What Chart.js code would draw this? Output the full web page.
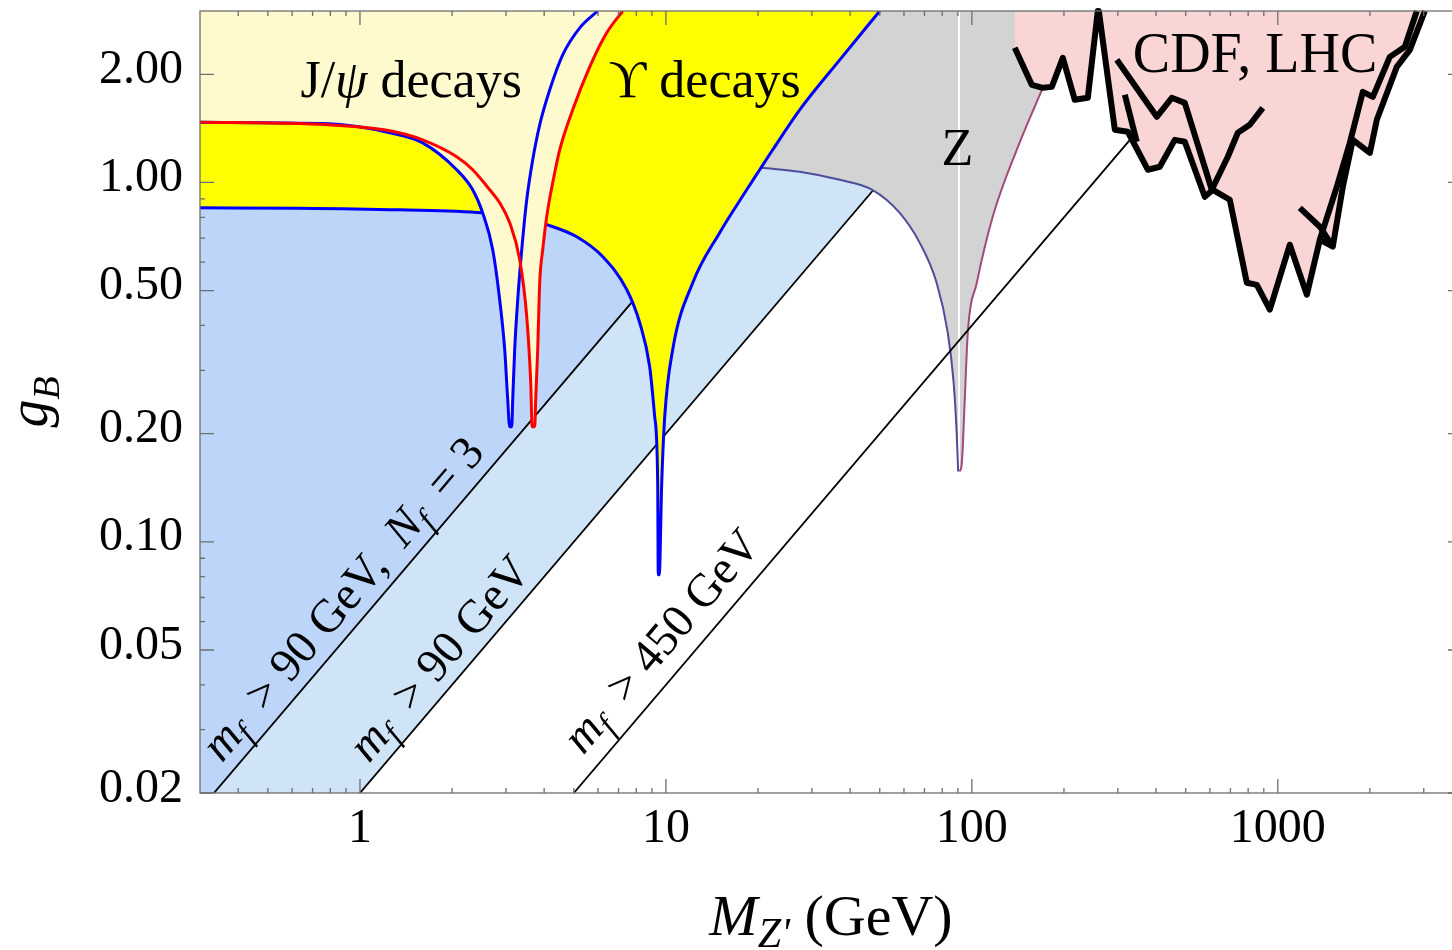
<!DOCTYPE html>
<html>
<head>
<meta charset="utf-8">
<title>g_B vs M_Z'</title>
<script src="https://cdn.jsdelivr.net/npm/chart.js@4.4.1/dist/chart.umd.min.js"></script>
<style>
  html, body { margin: 0; padding: 0; background: #fff; overflow: hidden; }
  #wrap { width: 1480px; height: 950px; }
</style>
</head>
<body>
<div id="wrap"><canvas id="bounds" width="1480" height="950"></canvas></div>
<script>
// [M_Z' (GeV), g_B] pairs

// J/psi bound (blue) and psi' bound (red)
var jpsiCurve = [[0.3,1.47],[0.796,1.456],[1.252,1.375],[1.603,1.289],[2.071,1.085],[2.336,0.954],[2.518,0.823],[2.716,0.65],[2.862,0.472],[2.972,0.343],[3.04,0.249],[3.086,0.209],[3.133,0.209],[3.157,0.249],[3.204,0.343],[3.278,0.472],[3.379,0.65],[3.508,0.895],[3.67,1.157],[3.868,1.447],[4.172,1.811],[4.599,2.265],[5.229,2.693],[5.985,3.0]];
var psiPrimeCurve = [[0.3,1.47],[0.589,1.461],[0.976,1.429],[1.252,1.392],[1.603,1.314],[2.071,1.179],[2.336,1.085],[2.655,0.954],[2.862,0.878],[3.086,0.772],[3.327,0.61],[3.508,0.423],[3.615,0.277],[3.655,0.209],[3.725,0.209],[3.753,0.249],[3.81,0.343],[3.868,0.526],[3.957,0.65],[4.077,0.803],[4.266,0.998],[4.496,1.233],[4.959,1.593],[5.636,2.097],[6.405,2.608],[7.224,3.0]];

// Upsilon bound
var upsilonCurve = [[0.3,0.85],[0.635,0.848],[1.35,0.839],[2.52,0.823],[3.33,0.798],[4.08,0.763],[5.11,0.706],[6.22,0.621],[7.45,0.503],[8.21,0.407],[8.85,0.307],[9.19,0.223],[9.4,0.146],[9.44,0.081],[9.51,0.081],[9.69,0.146],[9.91,0.223],[10.52,0.342],[12.24,0.526],[14.99,0.725],[18.37,0.954],[20.26,1.085],[22.34,1.233],[27.37,1.593],[37.0,2.194],[50.0,3.0]];

// Z width bound, both sides of the pole
var zLeft = [[20.56,1.099],[27.37,1.071],[37.0,1.017],[47.28,0.954],[58.1,0.823],[67.5,0.68],[76.7,0.526],[83.4,0.382],[87.2,0.277],[89.2,0.201],[90.2,0.157]];
var zRight = [[91.3,0.157],[92.7,0.165],[94.8,0.249],[97.0,0.382],[103.8,0.526],[117.0,0.803],[140.2,1.233],[170.5,1.834]];

// anomaly-fermion mass lines (the 90 GeV one continues below the axis)
var fermionNf3 = [[0.3,0.018],[7.73,0.464]];
var fermion90 = [[0.3,0.006],[47.5,0.95]];
var fermion450 = [[5.0,0.02],[342,1.368]];

// CDF / LHC dijet limits
var cdfEdge = [[138.1,2.369],[157,1.869],[170.5,1.834],[182.5,1.845],[198.3,2.222],[217,1.698],[239.3,1.72],[258,3.0],[260,3.0],[293.3,1.402],[323.4,1.384],[375.9,1.085],[411.4,1.106],[460.6,1.314],[496.6,1.298],[577.2,0.912],[613.1,0.954],[696.8,0.895],[791.9,0.526],[853.9,0.519],[941.7,0.443],[1094.7,0.671],[1244.1,0.487],[1372.1,0.693],[1512.9,0.663],[1631.6,0.973],[1759.3,1.314],[1999.2,1.209],[2107,1.494],[2449,2.097],[2701,2.339],[3024,3.0]];
var cdfInner = [[1372.1,0.693],[1559.2,0.973],[1719.5,1.289],[1896.6,1.787],[2044.5,1.731],[2323,2.236],[2602,2.385],[2847,3.0]];
var cdfHook = [[1180.2,0.85],[1372.1,0.753],[1512.9,0.663]];
var cdfUpper = [[297.7,2.194],[402.2,1.523],[450.3,1.72],[496.6,1.665],[608.5,0.954]];
var cdfShort = [[316.2,1.754],[345.9,1.298]];
var cdfSlant = [[893.3,1.613],[810,1.447],[740.1,1.375],[686.4,1.179],[608.5,0.954]];

var xTicks = [1, 10, 100, 1000];
var xMinorTicks = [0.4,0.5,0.6,0.7,0.8,0.9,2,3,4,5,6,7,8,9,20,30,40,50,60,70,80,90,200,300,400,500,600,700,800,900,2000,3000];
var yTicks = [0.02, 0.05, 0.1, 0.2, 0.5, 1, 2];
var yMinorTicks = [0.03,0.04,0.06,0.07,0.08,0.09,0.3,0.4,0.6,0.7,0.8,0.9];

var serif = '"Liberation Serif", "DejaVu Serif", serif';

function curve(label, data, o) {
  return Object.assign({
    label: label, data: data.slice(), pointRadius: 0, pointHoverRadius: 0,
    borderWidth: 0, borderColor: 'rgba(0,0,0,0)', fill: false, clip: 0, tension: 0
  }, o);
}

var smooth = { cubicInterpolationMode: 'monotone' };
var cdfLine = { borderColor: '#000', borderWidth: 6, borderJoinStyle: 'round', clip: 3 };

var datasets = [
  curve('m_f > 90 GeV', fermion90, { fill: 'end', backgroundColor: '#d0e4f8', borderColor: '#000', borderWidth: 1.8, order: 20 }),
  curve('m_f > 90 GeV, N_f = 3', fermionNf3, { fill: 'end', backgroundColor: '#bcd5f8', borderColor: '#000', borderWidth: 1.8, order: 19 }),
  curve('Z (below pole)', zLeft, Object.assign({ fill: 'end', backgroundColor: '#d3d3d3', borderColor: '#4d4d9c', borderWidth: 2, order: 18 }, smooth)),
  curve('Z (above pole)', zRight, Object.assign({ fill: 'end', backgroundColor: '#d3d3d3', borderColor: '#a24a7c', borderWidth: 2, order: 17 }, smooth)),
  curve('Upsilon', upsilonCurve, Object.assign({ fill: 'end', backgroundColor: '#ffff00', borderColor: '#0000ff', borderWidth: 3, order: 16 }, smooth)),
  curve('J/psi area', jpsiCurve, Object.assign({ fill: 'end', backgroundColor: '#fffacd', order: 15 }, smooth)),
  curve('psi\' area', psiPrimeCurve, Object.assign({ fill: 'end', backgroundColor: '#fffacd', order: 14 }, smooth)),
  curve('J/psi', jpsiCurve, Object.assign({ borderColor: '#0000ff', borderWidth: 3, order: 13 }, smooth)),
  curve('psi\'', psiPrimeCurve, Object.assign({ borderColor: '#ff0000', borderWidth: 3, order: 12 }, smooth)),
  curve('m_f > 450 GeV', fermion450, { borderColor: '#000', borderWidth: 1.8, order: 11 }),
  curve('CDF, LHC', cdfEdge, Object.assign({ fill: 'end', backgroundColor: '#f9d5d5', order: 10 }, cdfLine)),
  curve('CDF 2', cdfInner, Object.assign({ order: 9 }, cdfLine)),
  curve('CDF 3', cdfHook, Object.assign({ order: 8 }, cdfLine)),
  curve('CDF 4', cdfUpper, Object.assign({ order: 7 }, cdfLine)),
  curve('CDF 5', cdfShort, Object.assign({ order: 6 }, cdfLine)),
  curve('CDF 6', cdfSlant, Object.assign({ order: 5 }, cdfLine))
];

// text pieces: [text, size, italic, dy]
var plotLabels = [
  { at: [1.47, 1.73], parts: [['J/', 52], ['ψ', 52, true], [' decays', 52]] },
  { at: [13.4, 1.73], parts: [['ϒ decays', 52]] },
  { at: [89.6, 1.12], parts: [['Z', 52]] },
  { at: [842.6, 2.03], parts: [['CDF, LHC', 56]] }
];
var lineLabels = [
  { line: fermionNf3, at: 1.03, lift: 13, parts: [['m', 47, true], ['f', 33, true, 9], ['  > 90 GeV,  ', 47], ['N', 47, true], ['f', 33, true, 9], ['  = 3', 47]] },
  { line: fermion90, at: 2.12, lift: 12, parts: [['m', 47, true], ['f', 33, true, 9], ['  > 90 GeV', 47]] },
  { line: fermion450, at: 11.6, lift: 17, parts: [['m', 47, true], ['f', 33, true, 9], ['  > 450 GeV', 47]] }
];

function fontOf(p) { return (p[2] ? 'italic ' : '') + p[1] + 'px ' + serif; }

function drawRich(ctx, parts, x, y) {
  var w = 0;
  parts.forEach(function (p) { ctx.font = fontOf(p); w += ctx.measureText(p[0]).width; });
  var cx = x - w / 2;
  parts.forEach(function (p) {
    ctx.font = fontOf(p);
    ctx.fillText(p[0], cx, y + (p[3] || 0));
    cx += ctx.measureText(p[0]).width;
  });
}

var framePlugin = {
  id: 'frame',
  afterDatasetsDraw: function (chart) {
    var ctx = chart.ctx, a = chart.chartArea, xs = chart.scales.x, ys = chart.scales.y;
    ctx.save();
    ctx.strokeStyle = '#6e6e6e';
    ctx.lineWidth = 1.3;
    ctx.strokeRect(a.left, a.top, a.right - a.left, a.bottom - a.top);
    ctx.beginPath();
    function xt(v, len) {
      var p = xs.getPixelForValue(v);
      ctx.moveTo(p, a.bottom); ctx.lineTo(p, a.bottom - len);
      ctx.moveTo(p, a.top); ctx.lineTo(p, a.top + len);
    }
    function yt(v, len) {
      var p = ys.getPixelForValue(v);
      ctx.moveTo(a.left, p); ctx.lineTo(a.left + len, p);
      ctx.moveTo(a.right, p); ctx.lineTo(a.right - len, p);
    }
    xTicks.forEach(function (v) { xt(v, 14); });
    xMinorTicks.forEach(function (v) { xt(v, 5); });
    yTicks.forEach(function (v) { yt(v, 14); });
    yMinorTicks.forEach(function (v) { yt(v, 5); });
    ctx.stroke();
    ctx.restore();
  }
};

var textPlugin = {
  id: 'texts',
  afterDatasetsDraw: function (chart) {
    var ctx = chart.ctx, a = chart.chartArea, xs = chart.scales.x, ys = chart.scales.y;
    ctx.save();
    ctx.fillStyle = '#000';
    ctx.textBaseline = 'alphabetic';
    plotLabels.forEach(function (l) {
      drawRich(ctx, l.parts, xs.getPixelForValue(l.at[0]), ys.getPixelForValue(l.at[1]));
    });
    lineLabels.forEach(function (l) {
      var x0 = xs.getPixelForValue(l.line[0][0]), y0 = ys.getPixelForValue(l.line[0][1]);
      var x1 = xs.getPixelForValue(l.line[1][0]), y1 = ys.getPixelForValue(l.line[1][1]);
      var px = xs.getPixelForValue(l.at);
      var py = y0 + (px - x0) / (x1 - x0) * (y1 - y0);
      ctx.save();
      ctx.translate(px, py);
      ctx.rotate(Math.atan2(y1 - y0, x1 - x0));
      drawRich(ctx, l.parts, 0, -l.lift);
      ctx.restore();
    });
    // axis titles
    ctx.save();
    ctx.translate(47, (a.top + a.bottom) / 2);
    ctx.rotate(-Math.PI / 2);
    drawRich(ctx, [['g', 56, true], ['B', 38, true, 12]], 0, 0);
    ctx.restore();
    drawRich(ctx, [['M', 58, true], ["Z'", 42, true, 12], [' (GeV)', 58]], (a.left + a.right) / 2, 935);
    ctx.restore();
  }
};

function noPad(s) { s.paddingTop = 0; s.paddingBottom = 0; s.paddingLeft = 0; s.paddingRight = 0; }

new Chart(document.getElementById('bounds'), {
  type: 'line',
  data: { datasets: datasets },
  options: {
    responsive: false,
    animation: false,
    events: [],
    layout: { padding: { left: 0, top: 11, right: 18, bottom: 0 } },
    plugins: { legend: { display: false }, tooltip: { enabled: false } },
    scales: {
      x: {
        type: 'logarithmic', min: 0.3, max: 4000,
        grid: { display: false, drawTicks: false },
        border: { display: false },
        afterFit: function (s) { s.height = 157; noPad(s); },
        afterBuildTicks: function (s) { s.ticks = xTicks.map(function (v) { return { value: v }; }); },
        ticks: {
          autoSkip: false, maxRotation: 0, minRotation: 0, padding: 8, color: '#000',
          font: { family: serif, size: 48 },
          callback: function (v) { return String(v); }
        }
      },
      y: {
        type: 'logarithmic', min: 0.02, max: 3,
        grid: { display: false, drawTicks: false },
        border: { display: false },
        afterFit: function (s) { s.width = 200; noPad(s); },
        afterBuildTicks: function (s) { s.ticks = yTicks.map(function (v) { return { value: v }; }); },
        ticks: {
          autoSkip: false, padding: 17, labelOffset: -4, color: '#000',
          font: { family: serif, size: 48 },
          callback: function (v) { return v.toFixed(2); }
        }
      }
    }
  },
  plugins: [framePlugin, textPlugin]
});
</script>
</body>
</html>
